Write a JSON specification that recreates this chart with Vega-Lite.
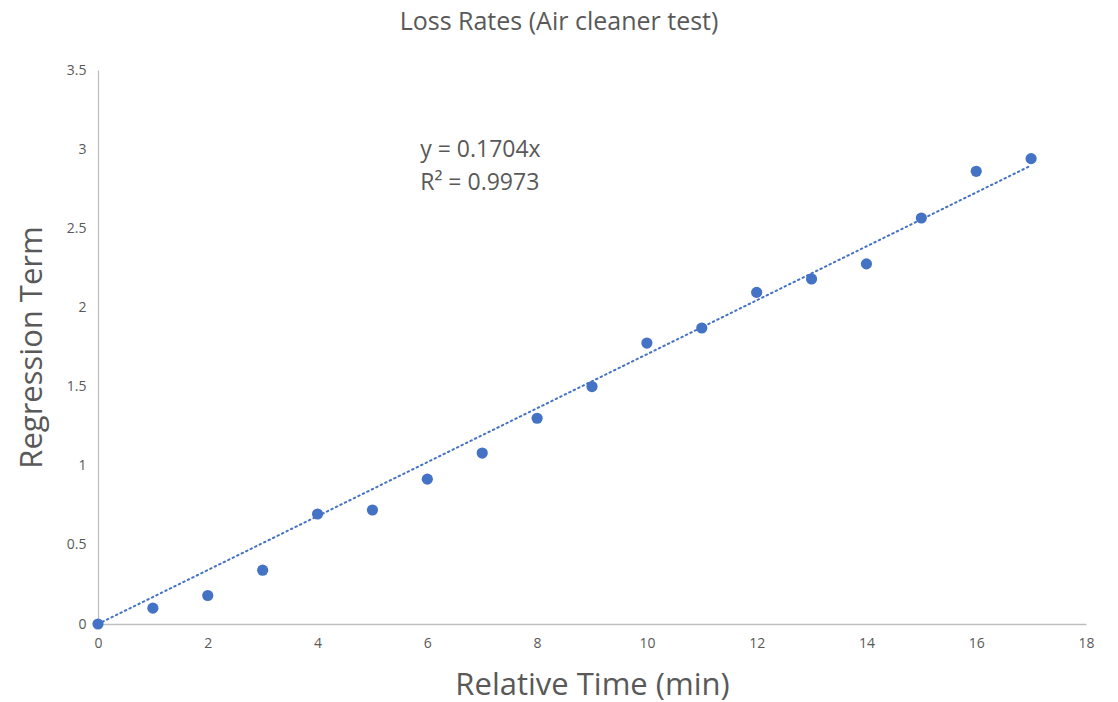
{
  "$schema": "https://vega.github.io/schema/vega-lite/v6.json",
  "autosize": "none",
  "width": 988,
  "height": 554,
  "padding": {"left": 98, "top": 70, "right": 32, "bottom": 78},
  "background": "white",
  "title": {
    "text": "Loss Rates (Air cleaner test)",
    "font": "Open Sans",
    "fontSize": 25,
    "fontWeight": "normal",
    "color": "#595959",
    "anchor": "middle",
    "dx": -33,
    "offset": 28
  },
  "config": {
    "view": {"stroke": null},
    "axis": {"grid": false, "ticks": false, "labelFlush": false, "domainColor": "#BFBFBF", "domainWidth": 1.3, "labelColor": "#595959", "labelFont": "Open Sans", "labelFontSize": 14, "titleColor": "#595959", "titleFont": "Open Sans", "titleFontWeight": "normal", "titleFontSize": 31}
  },
  "datasets": {
    "pts": [
      {"t": 0, "r": 0},
      {"t": 1, "r": 0.10},
      {"t": 2, "r": 0.18},
      {"t": 3, "r": 0.34},
      {"t": 4, "r": 0.695},
      {"t": 5, "r": 0.72},
      {"t": 6, "r": 0.915},
      {"t": 7, "r": 1.08},
      {"t": 8, "r": 1.30},
      {"t": 9, "r": 1.50},
      {"t": 10, "r": 1.775},
      {"t": 11, "r": 1.87},
      {"t": 12, "r": 2.095},
      {"t": 13, "r": 2.18},
      {"t": 14, "r": 2.275},
      {"t": 15, "r": 2.565},
      {"t": 16, "r": 2.86},
      {"t": 17, "r": 2.94}
    ],
    "trend": [
      {"t": 0, "r": 0},
      {"t": 17, "r": 2.8968}
    ],
    "labels": [
      {"t": 5.87, "r": 2.995, "txt": "y = 0.1704x"},
      {"t": 5.87, "r": 2.785, "txt": "R² = 0.9973"}
    ]
  },
  "layer": [
    {
      "data": {"name": "trend"},
      "mark": {"type": "line", "color": "#4472C4", "strokeWidth": 2, "strokeDash": [1.5, 3.5], "strokeCap": "round"},
      "encoding": {
        "x": {"field": "t", "type": "quantitative", "scale": {"domain": [0, 18]}, "axis": {"values": [0, 2, 4, 6, 8, 10, 12, 14, 16, 18], "title": "Relative Time (min)", "labelPadding": 12, "titlePadding": 20}},
        "y": {"field": "r", "type": "quantitative", "scale": {"domain": [0, 3.5]}, "axis": {"values": [0, 0.5, 1, 1.5, 2, 2.5, 3, 3.5], "format": "~g", "title": "Regression Term", "labelPadding": 12, "titlePadding": 18}}
      }
    },
    {
      "data": {"name": "pts"},
      "mark": {"type": "point", "filled": true, "color": "#4472C4", "size": 125, "opacity": 1},
      "encoding": {
        "x": {"field": "t", "type": "quantitative"},
        "y": {"field": "r", "type": "quantitative"}
      }
    },
    {
      "data": {"name": "labels"},
      "mark": {"type": "text", "align": "left", "baseline": "middle", "font": "Open Sans", "fontSize": 23, "color": "#595959"},
      "encoding": {
        "x": {"field": "t", "type": "quantitative"},
        "y": {"field": "r", "type": "quantitative"},
        "text": {"field": "txt"}
      }
    }
  ]
}
